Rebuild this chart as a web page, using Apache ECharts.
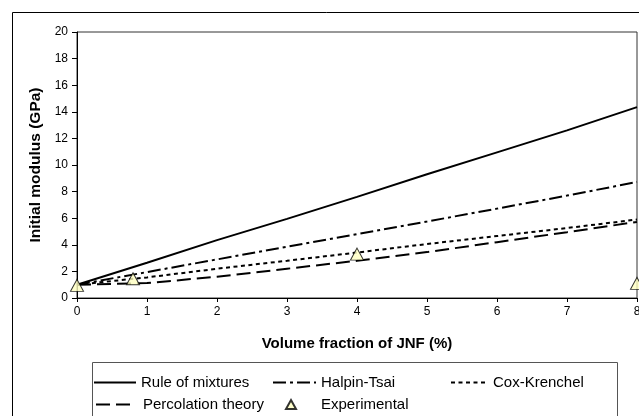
<!DOCTYPE html>
<html>
<head>
<meta charset="utf-8">
<script src="https://cdn.jsdelivr.net/npm/echarts@6/dist/echarts.min.js"></script>
<style>
  html, body { margin: 0; padding: 0; background: #fff; }
  #chart { width: 639px; height: 416px; }
</style>
</head>
<body>
<div id="chart"></div>
<script>
// Volume fraction of JNF (%) at which the model curves are evaluated
const fractions = [0, 1, 2, 3, 4, 5, 6, 7, 8];

// Predicted initial modulus (GPa) for each model
const ruleOfMixtures = [1.0, 2.65, 4.35, 5.95, 7.6, 9.3, 10.95, 12.6, 14.35];
const halpinTsai     = [1.0, 1.95, 2.9, 3.85, 4.8, 5.75, 6.72, 7.7, 8.72];
const coxKrenchel    = [1.0, 1.55, 2.2, 2.8, 3.42, 4.06, 4.66, 5.26, 5.9];
const percolation    = [1.0, 1.12, 1.6, 2.2, 2.8, 3.45, 4.2, 4.95, 5.72];

// Measured values
const expFractions = [0, 0.8, 4, 8];
const expModulus   = [0.95, 1.45, 3.3, 1.1];

const xTicks = { min: 0, max: 8, interval: 1 };
const yTicks = { min: 0, max: 20, interval: 2 };

const FONT = "'Liberation Sans', Arial, sans-serif";

function pairs(xs, ys) { return xs.map((x, i) => [x, ys[i]]); }

function lineSeries(name, ys, type) {
  return {
    name, type: 'line', data: pairs(fractions, ys),
    symbol: 'none', smooth: false, silent: true,
    itemStyle: { color: '#000' },
    lineStyle: { color: '#000', width: 2, type: type, cap: 'butt' },
    z: 3
  };
}

// One legend block per entry so the entries sit on a fixed column grid
function legendAt(name, left, top, w, h, padLeft, icon) {
  const l = {
    data: [name], left, top, orient: 'horizontal',
    itemWidth: w, itemHeight: h, padding: 0, selectedMode: false,
    textStyle: { fontFamily: FONT, fontSize: 15, color: '#000', padding: [0, 0, 0, padLeft] }
  };
  if (icon) {
    l.icon = icon;
  } else {
    l.itemStyle = { opacity: 0 };
  }
  return l;
}

const chart = echarts.init(document.getElementById('chart'), null, { renderer: 'canvas' });

chart.setOption({
  animation: false,
  backgroundColor: '#fff',
  textStyle: { fontFamily: FONT },
  grid: {
    left: 77, top: 32, width: 560, height: 266,
    outerBoundsMode: 'none', containLabel: false,
    show: true, borderColor: '#333', borderWidth: 1, backgroundColor: 'transparent'
  },
  xAxis: {
    type: 'value', min: xTicks.min, max: xTicks.max, interval: xTicks.interval,
    name: 'Volume fraction of JNF (%)', nameLocation: 'middle', nameGap: 38,
    nameTextStyle: { fontFamily: FONT, fontSize: 15, fontWeight: 'bold', color: '#000' },
    axisLine: { lineStyle: { color: '#000', width: 1 } },
    axisTick: { show: true, length: 4, lineStyle: { color: '#000' } },
    axisLabel: { fontFamily: FONT, fontSize: 12, color: '#000', margin: 8 },
    splitLine: { show: false }
  },
  yAxis: {
    type: 'value', min: yTicks.min, max: yTicks.max, interval: yTicks.interval,
    name: 'Initial modulus (GPa)', nameLocation: 'middle', nameGap: 30,
    nameTextStyle: { fontFamily: FONT, fontSize: 15.5, fontWeight: 'bold', color: '#000' },
    axisLine: { show: true, lineStyle: { color: '#000', width: 1 } },
    axisTick: { show: true, length: 5, lineStyle: { color: '#000' } },
    axisLabel: { fontFamily: FONT, fontSize: 12, color: '#000', margin: 9 },
    splitLine: { show: false }
  },
  legend: [
    legendAt('Rule of mixtures', 93, 375, 42, 14, 0),
    legendAt('Halpin-Tsai', 272, 375, 43, 14, 0),
    legendAt('Cox-Krenchel', 450, 375, 37, 14, 0),
    legendAt('Percolation theory', 95, 397, 40, 14, 2),
    legendAt('Experimental', 285, 397, 10, 9, 20, 'triangle')
  ],
  graphic: [
    { type: 'rect', shape: { x: 12.5, y: 12.5, width: 700, height: 500 },
      style: { fill: 'none', stroke: '#000', lineWidth: 1 }, silent: true, z: -1 },
    { type: 'rect', shape: { x: 92.5, y: 362.5, width: 525, height: 80 },
      style: { fill: 'none', stroke: '#555', lineWidth: 1 }, silent: true, z: -1 }
  ],
  series: [
    lineSeries('Rule of mixtures', ruleOfMixtures, 'solid'),
    lineSeries('Halpin-Tsai', halpinTsai, [13, 4, 3, 4]),
    lineSeries('Cox-Krenchel', coxKrenchel, [4, 3.5]),
    lineSeries('Percolation theory', percolation, [14, 6]),
    {
      name: 'Experimental', type: 'scatter', data: pairs(expFractions, expModulus),
      symbol: 'triangle', symbolSize: [13, 12], silent: true,
      itemStyle: { color: '#FFFFC0', borderColor: '#000', borderWidth: 1 },
      z: 5
    }
  ]
});
</script>
</body>
</html>
